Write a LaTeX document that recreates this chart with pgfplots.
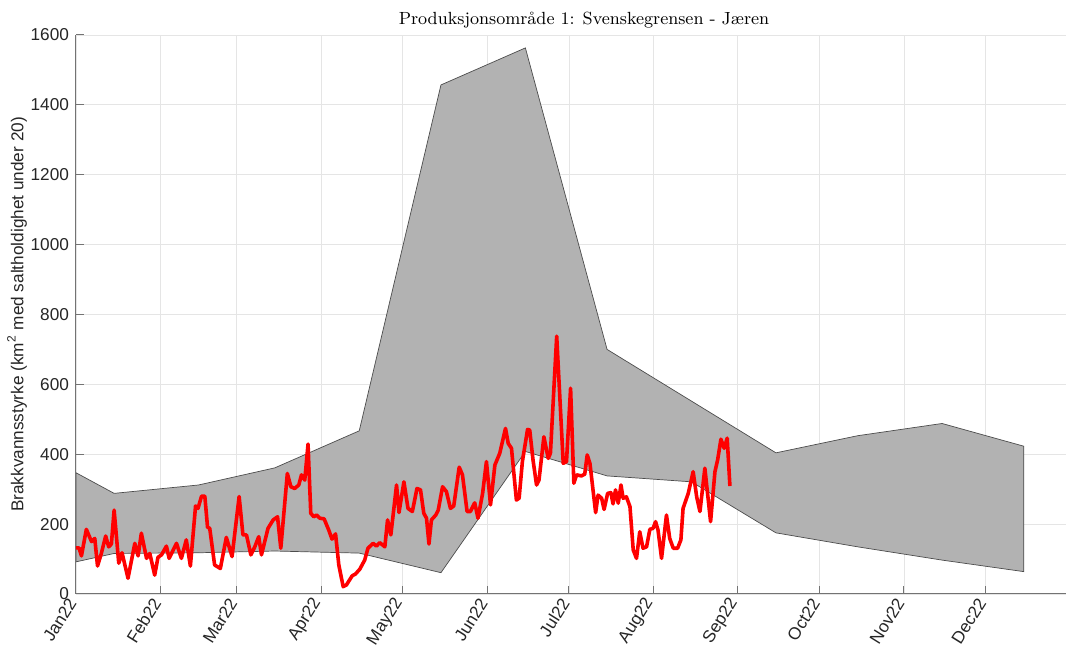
\documentclass[border=0pt]{standalone}
\usepackage{fontspec}
\usepackage{pgfplots}
\pgfplotsset{compat=1.18}
\newfontfamily\hv{Liberation Sans}
\begin{document}
\begin{tikzpicture}
\begin{axis}[
  scale only axis, width=495pt, height=279.5pt,
  xmin=0, xmax=363.5, ymin=0, ymax=1600,
  axis x line*=bottom, axis y line*=left,
  axis line style={black!55, line width=0.5pt},
  tick align=inside, major tick length=4pt,
  tick style={black!55, line width=0.5pt},
  xtick={0,31,59,90,120,151,181,212,243,273,304,334},
  xticklabels={Jan22,Feb22,Mar22,Apr22,May22,Jun22,Jul22,Aug22,Sep22,Oct22,Nov22,Dec22},
  ytick={0,200,...,1600},
  grid=major, major grid style={black!10, line width=0.4pt},
  font=\hv\fontsize{8.6}{10}\selectfont,
  tick label style={font=\hv\fontsize{8.6}{10}\selectfont, text=black!85},
  /pgf/number format/assume math mode=true,
  /pgf/number format/1000 sep={},
  xticklabel style={rotate=58, anchor=east},
  ylabel={Brakkvannsstyrke (km\textsuperscript{2} med saltholdighet under 20)},
  ylabel style={text=black!85, yshift=-5pt},
  title={Produksjonsområde 1: Svenskegrensen - Jæren},
  title style={font=\rmfamily\fontsize{8.8}{10}\selectfont, xshift=6.5pt, yshift=-6pt},
]
\addplot[fill=black!30, draw=black!70, line width=0.35pt] coordinates {
(0,347) (14,288) (45,312) (73,361) (104,467) (134,1457) (165,1563) (195,700) (226,552) (257,404) (287,453) (318,488) (348,423)
(348,64) (318,97) (287,135) (257,175) (226,321) (195,338) (165,408) (134,61) (104,117) (73,123) (45,118) (14,116) (0,92) (0,347)
};
\addplot[red, line width=1.8pt, line join=round] coordinates {
(0,132) (1.1,132) (2.0,109) (3.8,185) (5.7,150) (6.9,159) (7.9,80) (9.3,116) (10.9,166) (12.0,135)
(13.0,143) (14.0,240) (15.7,88) (16.9,118) (19.1,45) (21.6,145) (22.8,109) (24.0,174) (25.9,102) (27.1,116)
(28.9,54) (30.1,105) (31.4,112) (33.2,137) (34.2,102) (36.9,145) (38.7,102) (40.5,155) (42.0,80) (43.9,252)
(44.8,245) (46.1,280) (47.3,280) (48.3,191) (49.1,188) (50.9,83) (53.0,73) (55.2,162) (57.3,107) (59.9,279)
(61.3,169) (62.6,169) (64.2,112) (65.6,134) (67.1,164) (68.1,112) (70.5,188) (72.4,212) (74.0,221) (75.2,131)
(77.6,345) (78.9,307) (80.3,302) (81.8,312) (82.8,341) (84.0,326) (85.2,429) (86.2,231) (87.3,221) (88.3,226)
(89.5,217) (91.1,215) (92.8,183) (94.0,157) (95.3,172) (96.5,83) (98.1,21) (99.3,26) (101.4,52) (102.6,57)
(104.2,71) (106.0,97) (107.2,131) (109.1,145) (110.3,137) (111.5,147) (113.4,135) (114.4,212) (115.6,169) (117.7,312)
(118.6,233) (120.4,321) (121.9,245) (123.5,236) (125.2,302) (126.5,298) (127.7,231) (128.7,217) (129.6,143) (130.5,212)
(132.1,226) (133.0,240) (134.6,307) (136.0,293) (137.5,245) (138.7,252) (140.7,363) (141.9,341) (143.6,236) (144.8,236)
(146.4,261) (147.6,217) (149.3,288) (150.7,379) (152.2,255) (153.8,369) (155.6,403) (157.7,474) (158.7,431) (159.9,417)
(161.7,269) (162.7,274) (163.9,379) (165.8,471) (166.6,469) (167.8,384) (169.1,312) (170.0,326) (171.8,450) (173.4,388)
(174.2,403) (176.5,738) (178.9,374) (180.1,379) (181.6,589) (182.8,317) (183.8,341) (185.6,338) (186.8,343) (187.7,398)
(188.7,374) (190.8,233) (191.7,283) (193.0,274) (193.9,242) (195.2,288) (196.4,290) (197.2,258) (198.1,298) (199.1,260)
(200.1,312) (200.9,274) (202.1,278) (203.4,250) (204.6,126) (205.8,102) (207.0,178) (208.2,131) (209.5,135) (210.7,185)
(211.9,188) (212.8,207) (213.7,183) (215.0,102) (216.8,226) (218.0,159) (219.3,131) (220.9,131) (222.1,155) (222.9,245)
(224.8,288) (226.6,350) (227.9,278) (229.1,236) (230.9,360) (233.0,207) (234.6,350) (235.6,384) (236.8,443) (238.0,417)
(239.1,446) (240.1,309)
};
\end{axis}
\pgfresetboundingbox
\path[use as bounding box] (-38pt,-28.5pt) rectangle (495.5pt,297pt);
\end{tikzpicture}
\end{document}
